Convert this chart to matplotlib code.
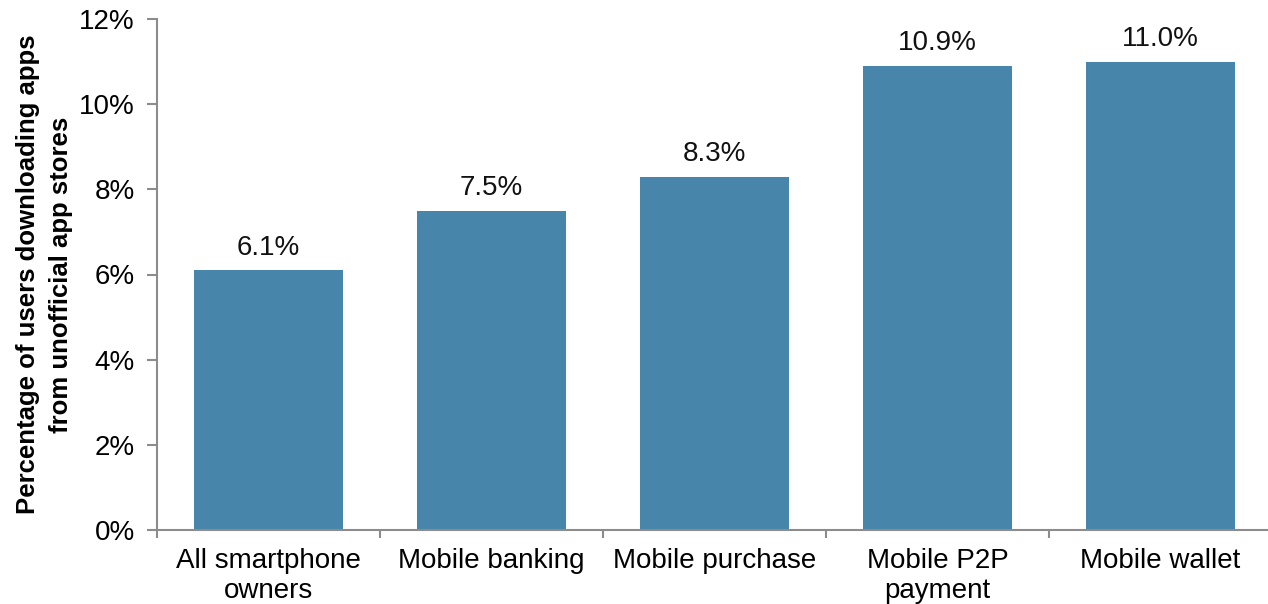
import matplotlib.pyplot as plt
from matplotlib.ticker import FuncFormatter, FixedLocator

plt.rcParams['font.family'] = ['Liberation Sans', 'DejaVu Sans']

# ── Data ──────────────────────────────────────────────────
categories = ["All smartphone\nowners", "Mobile banking", "Mobile purchase",
              "Mobile P2P\npayment", "Mobile wallet"]
values = [6.1, 7.5, 8.3, 10.9, 11.0]
y_ticks = [0, 2, 4, 6, 8, 10, 12]

bar_color = '#4785AA'
axis_color = '#8C8C8C'

# ── Figure ────────────────────────────────────────────────
fig = plt.figure(figsize=(12.68, 6.04), dpi=100)
ax = fig.add_axes([157 / 1268, 74 / 604, 1115 / 1268, 511 / 604])

x = range(len(categories))
bars = ax.bar(x, values, width=0.67, color=bar_color, zorder=2)

for b, v in zip(bars, values):
    ax.text(b.get_x() + b.get_width() / 2, v + 0.22, f"{v:.1f}%",
            ha='center', va='bottom', fontsize=20, color='#111111')

ax.set_xlim(-0.5, len(categories) - 0.5)
ax.set_ylim(0, 12)
ax.set_yticks(y_ticks)
ax.yaxis.set_major_formatter(FuncFormatter(lambda v, _: f"{v:.0f}%"))

# category names centred under bars, tick marks between them
ax.set_xticks(list(x))
ax.set_xticklabels(categories, fontsize=20, linespacing=1.2)
ax.tick_params(axis='x', length=0, pad=13)
ax.xaxis.set_minor_locator(FixedLocator([i + 0.5 for i in range(-1, len(categories))]))
ax.tick_params(axis='x', which='minor', length=6, width=1.5, color=axis_color)

ax.tick_params(axis='y', length=7, width=1.5, color=axis_color, labelsize=20, pad=9)

for side in ('top', 'right'):
    ax.spines[side].set_visible(False)
for side in ('left', 'bottom'):
    ax.spines[side].set_color(axis_color)
    ax.spines[side].set_linewidth(1.5)

ax.set_ylabel("Percentage of users downloading apps\nfrom unofficial app stores",
              fontsize=18.5, fontweight='bold', linespacing=1.5, labelpad=4)

fig.savefig('out.png', dpi=100)
